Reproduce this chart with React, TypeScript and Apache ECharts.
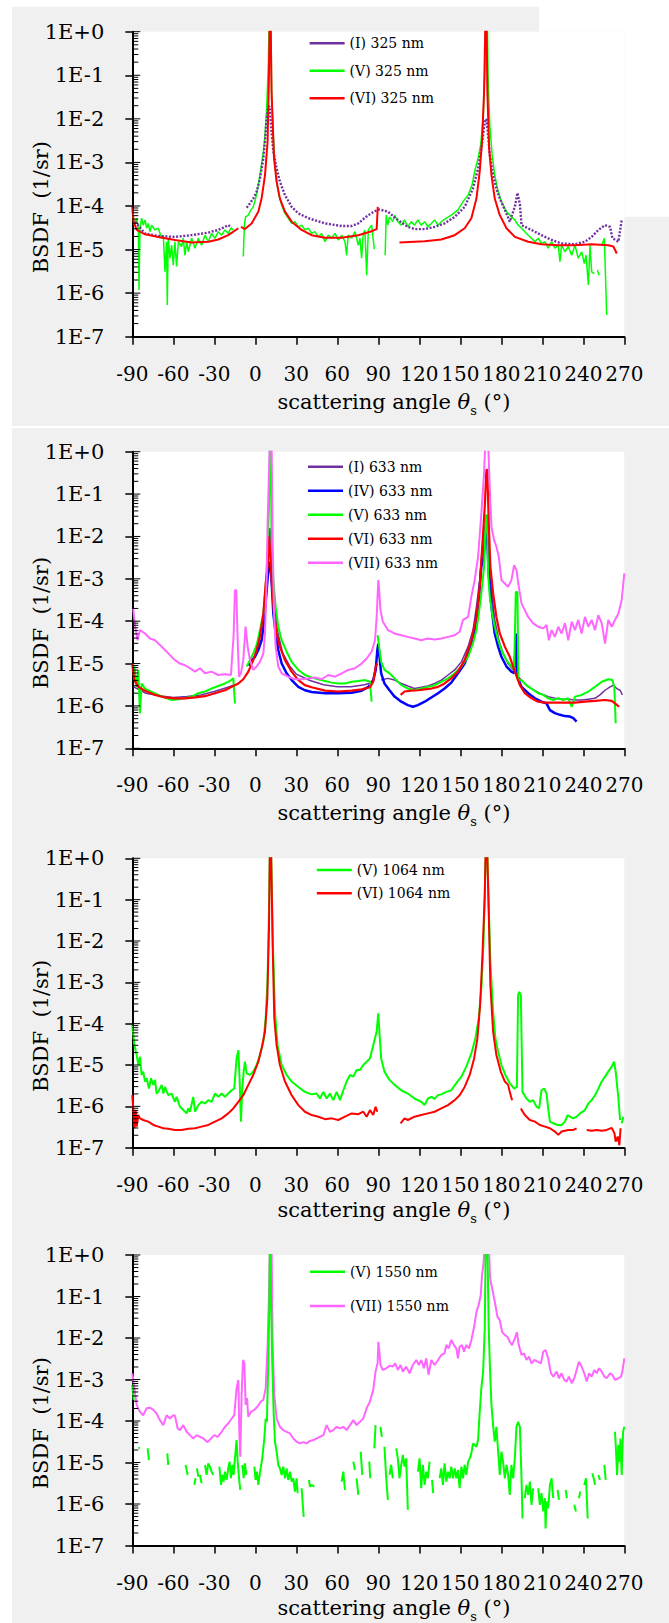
import { useEffect, useRef } from 'react';
import * as echarts from 'echarts';

// Each point: [scattering angle θs in degrees, log10(BSDF in 1/sr)]; null = gap in the measurement
type Pt = [number, number] | null;

const X_MIN = -90;
const X_MAX = 270;
const X_STEP = 30;
const Y_MIN = 1e-7;
const Y_MAX = 1;
const DECADES = [-7, -6, -5, -4, -3, -2, -1];
const MINOR_STEPS = [2, 3, 4, 5, 6, 7, 8, 9];

// ---------------- Panel 1 : 325 nm ----------------
const P1_I_325: Pt[] = [
  [-88, -4.36], [-80.7, -4.63], [-71, -4.69], [-58.8, -4.71], [-46.6, -4.67], [-34.4, -4.61], [-27.1, -4.55], [-22.2, -4.48], [-19.8, -4.44], [-17.3, -4.49], null,
  [-6.3, -4.04], [-3.9, -3.94], [-1.5, -3.83], [1, -3.67], [3.4, -3.37], [5.9, -2.91], [7.1, -2.52], [8.3, -1.99], [9.5, -1.72], [10.5, -1.72], [11.9, -2.3], [13.2, -2.75], [15.6, -3.14], [18, -3.44], [21.7, -3.75], [26.6, -4.02], [31.5, -4.17], [38.8, -4.28], [51, -4.4], [63.2, -4.46], [70.5, -4.46], [75.4, -4.4], [80.2, -4.27], [84.6, -4.17], [87.5, -4.12],
  [90.9, -4.08], [97, -4.13], [104.3, -4.32], [111.6, -4.48], [116.5, -4.53], [123.9, -4.53], [131.2, -4.48], [138.5, -4.4], [145.9, -4.25], [153.2, -4.02], [159.3, -3.6], [163, -3.14], [165.4, -2.68], [167.9, -2.07], [169.2, -2.0], [170.3, -2.37], [171.6, -2.83], [174, -3.29], [176.4, -3.6], [178.9, -3.83], [182.6, -4.09], [186.2, -4.36], [189.9, -4.02], [191.8, -3.7], [193.6, -3.96], [194.8, -4.44], [202.1, -4.55], [209.4, -4.67], [216.8, -4.78], [224.1, -4.86], [233.9, -4.88], [241.2, -4.82], [246.1, -4.71], [251, -4.55], [255.9, -4.44], [259.6, -4.48], [261.3, -4.74], [265.7, -4.82], [268.1, -4.32],
];
const P1_V_325: Pt[] = [
  [-90, -4.13], [-88.5, -4.44], [-86.8, -4.28], [-85.6, -4.51], [-85.1, -5.93], [-84.4, -4.51], [-83.2, -4.28], [-82, -4.44], [-80.7, -4.32], [-79.5, -4.51], [-78.3, -4.4], [-77.1, -4.59], [-75.9, -4.44], [-73.4, -4.55], [-71, -4.51], [-68.5, -4.74], [-67.3, -4.67], [-66.1, -5.51], [-64.9, -4.82], [-64.4, -6.27], [-63.7, -4.74], [-62.4, -5.2], [-61.2, -4.9], [-60, -5.36], [-58.8, -4.82], [-57.6, -5.39], [-56.3, -4.82], [-53.9, -4.93], [-52.7, -4.74], [-51.5, -5.13], [-50.2, -4.82], [-49, -5.05], [-46.6, -4.74], [-44.1, -4.97], [-41.7, -4.74], [-39.3, -4.9], [-36.8, -4.67], [-34.4, -4.82], [-32, -4.63], [-29.5, -4.74], [-27.1, -4.59], [-24.6, -4.67], [-22.2, -4.55], [-19.8, -4.63], [-17.8, -4.51], [-16.1, -4.55], null,
  [-8.8, -5.16], [-8, -4.44], [-7.1, -4.25], [-5.1, -4.21], [-3.2, -4.09], [-1.5, -4.02], [0.2, -3.83], [2.2, -3.52], [4.1, -3.14], [5.9, -2.75], [7.1, -2.37], [8.3, -1.76], [9.5, -0.77], [10.2, 0.3], [11.5, 0.3], [11.9, -1.38], [13.2, -2.37], [14.4, -3.06], [15.6, -3.44], [17.3, -3.75], [19.3, -3.98], [21.7, -4.17], [24.1, -4.28], [26.6, -4.4], [29, -4.36], [31.5, -4.48], [33.9, -4.44], [36.3, -4.55], [38.8, -4.51], [41.2, -4.63], [43.7, -4.59], [46.1, -4.71], [48.5, -4.63], [51, -4.82], [53.4, -4.67], [55.9, -4.74], [58.3, -4.63], [60.7, -4.78], [63.2, -4.67], [65.6, -4.82], [66.8, -5.13], [68, -4.67], [70.5, -4.74], [72.9, -4.59], [75.4, -4.9], [76.6, -4.74], [77.8, -5.2], [79, -4.63], [80.2, -4.55], [81.5, -5.59], [82.7, -4.55], [85.1, -4.44], [87.1, -4.99], null,
  [95, -5.13], [95.8, -4.21], [97, -4.44], [98.2, -4.25], [100.6, -4.36], [101.9, -4.21], [104.3, -4.36], [106.8, -4.44], [109.2, -4.32], [111.6, -4.48], [114.1, -4.36], [116.5, -4.44], [119, -4.32], [121.4, -4.44], [123.9, -4.36], [126.3, -4.48], [128.8, -4.4], [131.2, -4.32], [133.7, -4.44], [136.1, -4.36], [139.8, -4.28], [143.4, -4.21], [148.3, -4.09], [152, -3.9], [155.7, -3.75], [158.6, -3.52], [160.5, -3.21], [163, -2.91], [164.9, -2.6], [166.7, -1.99], [167.9, -0.99], [168.6, 0.3], [169.8, 0.3], [170.3, -0.99], [171.6, -2.14], [173.3, -2.83], [175.2, -3.29], [177.7, -3.67], [180.1, -3.9], [183.8, -4.13], [187.4, -4.25], [189.9, -4.32], [192.3, -4.44], [194.8, -4.51], [197.2, -4.59], [199.7, -4.67], [202.1, -4.74], [204.6, -4.82], [207, -4.74], [209.4, -4.86], [211.9, -4.82], [214.3, -4.97], [216.8, -4.82], [219.2, -4.97], [221.7, -4.9], [222.9, -5.28], [224.1, -4.9], [226.6, -5.05], [229, -4.93], [231.5, -5.13], [233.9, -4.9], [236.3, -5.2], [238.8, -5.05], [240.7, -5.32], [242, -5.13], [243.7, -5.81], [244.9, -4.9], [246.1, -5.51], [248.1, -5.55], null,
  [250.3, -5.47], [251.5, -5.59], null,
  [253.5, -4.9], [255.4, -4.74], [257.1, -6.5],
];
const P1_VI_325: Pt[] = [
  [-90, -4.02], [-89, -4.36], [-86.8, -4.55], [-80.7, -4.65], [-71, -4.71], [-58.8, -4.78], [-46.6, -4.84], [-34.4, -4.82], [-27.1, -4.77], [-19.8, -4.67], [-12.4, -4.51], null,
  [-10.5, -4.48], [-7.6, -4.53], [-2.7, -4.4], [2.2, -4.13], [4.6, -3.83], [7.1, -3.29], [9, -2.52], [10, -0.99], [10.5, 0.3], [11.2, 0.3], [11.9, -1.38], [13.7, -2.91], [15.6, -3.44], [18, -3.83], [21.7, -4.13], [26.6, -4.36], [33.9, -4.55], [41.2, -4.67], [51, -4.73], [63.2, -4.73], [75.4, -4.67], [85.1, -4.58], [88.8, -4.53], [89.6, -4.02], null,
  [105.5, -4.84], [123.9, -4.81], [136.1, -4.77], [145.9, -4.67], [153.2, -4.51], [158.1, -4.28], [161.8, -3.83], [164.2, -3.21], [165.9, -2.52], [167.4, -1.38], [168.4, 0.3], [169.2, 0.3], [169.8, -1.38], [171.1, -2.68], [172.8, -3.29], [175.2, -3.83], [178.9, -4.21], [183.8, -4.51], [189.9, -4.71], [199.7, -4.82], [209.4, -4.88], [221.7, -4.9], [233.9, -4.9], [246.1, -4.88], [258.3, -4.9], [262, -4.93], [264.5, -5.09],
];

// ---------------- Panel 2 : 633 nm ----------------
const P2_I_633: Pt[] = [
  [-89, -5.55], [-80, -5.7], [-70, -5.76], [-60, -5.8], [-50, -5.78], [-40, -5.74], [-30, -5.66], [-20, -5.56], [-15, -5.5], null,
  [5.9, -4.0], [8, -3.2], [9.5, -2.3], [10.7, -1.8], [12, -2.5], [13.5, -3.4], [16, -4.2], [20, -4.75], [25, -5.05], [30, -5.25], [40, -5.4], [50, -5.5], [60, -5.55], [70, -5.55], [80, -5.5], [85, -5.45], null,
  [92.1, -5.39], [97, -5.35], [101.9, -5.39], [106.8, -5.47], [111.6, -5.53], [116.5, -5.59], [121.4, -5.56], [126.3, -5.53], [131.2, -5.47], [136.1, -5.39], [141, -5.27], [145.9, -5.15], [150.8, -4.96], [155.7, -4.6], [159.3, -4.21], [161.8, -3.66], [164.2, -3.03], [165.9, -2.32], [167.4, -1.85], [168.6, -1.69], [170.3, -2.08], [171.6, -2.87], [173.3, -3.42], [175.2, -3.97], [178.2, -4.45], [181.3, -4.76], [185, -5.0], [188.7, -5.15], [192.3, -5.31], [196, -5.43], [199.7, -5.55], [204.6, -5.64], [209.4, -5.72], [214.3, -5.78], [219.2, -5.82], [224.1, -5.84], [229, -5.84], [233.9, -5.86], [238.8, -5.86], [243.7, -5.84], [248.6, -5.82], [252.2, -5.74], [255.9, -5.63], [259.6, -5.55], [262, -5.51], [264.5, -5.59], [266.9, -5.63], [268.6, -5.74],
];
const P2_IV_633: Pt[] = [
  [-5, -5.05], [-2.7, -4.92], [-0.2, -4.84], [2.2, -4.68], [4.6, -4.45], [6.6, -3.97], [8, -3.4], [9, -3.0], [10.2, -2.6], [11.2, -2.7], [12, -3.1], [13.2, -3.82], [14.9, -4.29], [16.8, -4.68], [19.3, -5.0], [22.9, -5.23], [26.6, -5.39], [31.5, -5.55], [36.3, -5.63], [41.2, -5.67], [51, -5.7], [60.7, -5.7], [70.5, -5.69], [77.8, -5.64], [82.7, -5.55], [86.3, -5.39], [88.1, -5.15], [89.3, -4.68], [90, -4.53], [90.9, -4.84], [92.1, -5.23], [94.5, -5.47], [98.2, -5.63], [101.9, -5.78], [106.8, -5.9], [111.6, -5.98], [115.3, -6.02], [119, -5.98], [123.9, -5.9], [128.8, -5.8], [133.7, -5.7], [138.5, -5.59], [143.4, -5.45], [148.3, -5.23], [153.2, -5.0], [156.9, -4.68], [160.5, -4.21], [163.5, -3.5], [165.4, -2.71], [167.1, -2.48], [168.4, -1.93], [169.6, -2.0], [170.8, -2.87], [172.8, -3.66], [175.2, -4.29], [177.7, -4.6], [180.1, -4.84], [183.8, -5.07], [187.4, -5.19], [189.4, -5.23], [190.9, -4.29], [191.8, -5.31], [194.8, -5.55], [199.7, -5.7], [204.6, -5.82], [209.4, -5.9], [213.1, -5.94], [215.6, -6.1], [219.2, -6.17], [222.9, -6.21], [226.6, -6.24], [230.2, -6.25], [232.7, -6.29], [235.1, -6.37],
];
const P2_V_633: Pt[] = [
  [-90, -5.0], [-88.5, -5.07], [-86.8, -5.55], [-85.6, -5.15], [-84.4, -6.18], [-83.2, -5.47], [-80.7, -5.59], [-75.9, -5.67], [-71, -5.74], [-66.1, -5.8], [-61.2, -5.86], [-56.3, -5.84], [-51.5, -5.82], [-46.6, -5.78], [-41.7, -5.7], [-36.8, -5.66], [-32, -5.59], [-27.1, -5.53], [-22.2, -5.47], [-18.5, -5.41], [-16.1, -5.35], [-14.9, -5.94], null,
  [-6.3, -5.07], [-3.9, -4.92], [-1.5, -4.76], [1, -4.56], [3.4, -4.21], [5.9, -3.82], [7.6, -3.19], [9, -2.32], [10, -1.3], [10.7, 0.3], [11.3, 0.3], [11.9, -2.08], [13.2, -3.03], [14.9, -3.66], [16.8, -4.13], [19.3, -4.45], [22.9, -4.72], [26.6, -4.96], [31.5, -5.15], [36.3, -5.27], [41.2, -5.33], [46.1, -5.37], [51, -5.41], [55.9, -5.45], [60.7, -5.47], [65.6, -5.47], [70.5, -5.43], [75.4, -5.41], [80.2, -5.39], [83.9, -5.43], [85.1, -5.9], null,
  [89.5, -4.33], [92.1, -4.96], [94.5, -5.15], [98.2, -5.23], [101.9, -5.35], [106.8, -5.51], [111.6, -5.59], [116.5, -5.63], [121.4, -5.59], [126.3, -5.55], [131.2, -5.51], [136.1, -5.43], [141, -5.35], [145.9, -5.23], [150.8, -5.07], [155.7, -4.84], [159.3, -4.52], [161.8, -4.21], [164.2, -3.66], [165.9, -3.19], [167.4, -2.71], [168.6, -1.5], [169.6, -1.5], [170.3, -2.87], [171.6, -3.42], [173.3, -3.82], [175.2, -4.13], [177.7, -4.45], [180.1, -4.68], [183.8, -4.92], [187.4, -5.07], [189.4, -5.15], [190.6, -3.31], [191.8, -3.31], [192.5, -5.39], [194.8, -5.39], [198.4, -5.51], [202.1, -5.59], [207, -5.7], [210.7, -5.74], [214.3, -5.82], [217.9, -5.86], [221.7, -5.82], [225.3, -5.86], [229, -5.82], [231.5, -6.02], [233.9, -5.78], [238.8, -5.74], [243.7, -5.66], [248.6, -5.55], [253.5, -5.43], [258.3, -5.37], [261.3, -5.39], [262.7, -5.55], [263.7, -6.41],
];
const P2_VI_633: Pt[] = [
  [-90, -5.01], [-88.5, -5.39], [-85.6, -5.55], [-80.7, -5.64], [-73.4, -5.74], [-66.1, -5.8], [-58.8, -5.82], [-51.5, -5.82], [-44.1, -5.8], [-36.8, -5.77], [-29.5, -5.7], [-22.2, -5.63], [-17.3, -5.55], [-12.4, -5.47], [-8.8, -5.37], [-5.1, -5.19], [-1.5, -4.92], [1, -4.68], [3.4, -4.37], [5.9, -3.82], [7.6, -3.11], [9, -2.71], [10, -2.0], [10.7, -2.32], [11.9, -3.03], [13.7, -3.82], [15.6, -4.29], [18, -4.6], [21.7, -4.92], [26.6, -5.19], [31.5, -5.39], [36.3, -5.51], [41.2, -5.56], [51, -5.64], [60.7, -5.66], [70.5, -5.64], [77.8, -5.61], [83.9, -5.56], [86.3, -5.43], [88.1, -5.07], [89.3, -5.0], null,
  [106.3, -5.74], [109.2, -5.66], [114.1, -5.64], [119, -5.63], [123.9, -5.61], [128.8, -5.59], [133.7, -5.55], [138.5, -5.47], [143.4, -5.35], [148.3, -5.19], [153.2, -4.92], [158.1, -4.45], [161.8, -3.9], [164.2, -3.19], [165.9, -2.32], [167.9, -1.3], [169.1, -0.43], [169.8, -0.43], [170.8, -1.69], [172, -2.71], [174, -3.34], [176.4, -3.9], [178.9, -4.29], [182.6, -4.6], [186.2, -4.84], [189.9, -5.19], [193.6, -5.51], [197.2, -5.7], [202.1, -5.82], [207, -5.9], [211.9, -5.92], [219.2, -5.92], [226.6, -5.92], [233.9, -5.92], [241.2, -5.9], [248.6, -5.88], [255.9, -5.86], [260.8, -5.88], [263.2, -5.94], [266.2, -6.02],
];
const P2_VII_633: Pt[] = [
  [-89.3, -3.7], [-88, -4.13], [-86.1, -4.45], [-84.4, -4.21], [-80.7, -4.29], [-77.1, -4.41], [-73.4, -4.45], [-69.8, -4.56], [-66.1, -4.68], [-62.4, -4.8], [-58.8, -4.92], [-55.1, -5.0], [-51.5, -5.04], [-47.8, -5.11], [-44.1, -5.19], [-40.5, -5.11], [-36.8, -5.23], [-32, -5.19], [-27.1, -5.27], [-22.2, -5.25], [-17.8, -5.27], [-16.8, -4.76], [-15.9, -4.37], [-14.9, -3.27], [-13.9, -3.27], [-12.9, -4.45], [-11.9, -5.31], [-10.5, -5.23], [-8.8, -4.92], [-7.1, -4.13], [-5.6, -4.6], [-3.9, -4.92], [-1.5, -5.15], [1, -5.07], [3.4, -4.96], [5.9, -4.76], [7.1, -4.29], [8.3, -3.03], [9, -1.69], [10, -0.51], [10.7, 0.3], [11.9, 0.3], [12.7, -2.08], [13.7, -3.82], [14.9, -4.6], [16.8, -5.07], [19.3, -5.23], [21.7, -5.27], [25.4, -5.33], [29, -5.37], [33.9, -5.37], [38.8, -5.35], [43.7, -5.33], [48.5, -5.37], [53.4, -5.27], [58.3, -5.31], [63.2, -5.23], [68, -5.15], [72.9, -5.11], [77.8, -5.0], [81.5, -4.88], [85.1, -4.72], [87.6, -4.45], [88.8, -3.9], [90, -3.03], null,
  [90.1, -3.03], [91.6, -3.74], [93.3, -4.01], [97, -4.21], [101.9, -4.29], [106.8, -4.33], [111.6, -4.37], [116.5, -4.41], [121.4, -4.45], [126.3, -4.41], [131.2, -4.43], [136.1, -4.41], [141, -4.37], [145.9, -4.33], [149.5, -4.25], [152, -3.97], [155.7, -3.9], [158.1, -3.42], [160.5, -3.03], [163, -2.48], [165.4, -1.46], [167.4, -0.51], [168.4, 0.3], [170.3, 0.3], [171.6, -0.9], [172.8, -1.77], [174.7, -2.08], [176.4, -2.24], [178.2, -2.48], [180.1, -3.03], [182.6, -3.11], [185, -3.19], [187.4, -3.03], [189.4, -2.68], [191.1, -2.79], [192.8, -3.19], [194.8, -3.58], [197.2, -3.74], [199.7, -3.9], [203.3, -4.05], [207, -4.13], [210.7, -4.17], [213.1, -4.09], [214.8, -4.45], [216.8, -4.21], [219.2, -4.37], [221.7, -4.13], [224.1, -4.29], [226.6, -4.05], [229, -4.45], [231.5, -4.01], [233.9, -4.21], [236.3, -3.97], [238.8, -4.29], [241.2, -3.9], [243.7, -4.13], [246.1, -3.97], [248.6, -4.21], [251, -3.86], [253.5, -4.05], [255.9, -4.53], [258.3, -3.97], [260.8, -4.13], [263.2, -3.97], [265.7, -3.82], [268.1, -3.5], [270, -2.87],
];

// ---------------- Panel 3 : 1064 nm ----------------
const P3_V_1064: Pt[] = [
  [-90, -4.03], [-88.5, -4.52], [-86.8, -4.76], [-85.6, -5.0], [-84.4, -4.8], [-83.2, -5.24], [-82, -5.16], [-80.7, -5.4], [-79.5, -5.32], [-77.8, -5.57], [-76.3, -5.32], [-74.6, -5.48], [-73.4, -5.36], [-72.2, -5.69], [-71, -5.65], [-68.5, -5.48], [-67.3, -5.69], [-66.1, -5.53], [-63.7, -5.73], [-61.2, -5.69], [-58.8, -5.89], [-57.6, -5.77], [-55.1, -6.01], [-52.7, -6.09], [-50.2, -6.17], [-49, -6.05], [-47.8, -6.13], [-45.4, -5.77], [-44.1, -6.13], [-41.7, -5.97], [-39.3, -5.89], [-36.8, -5.93], [-34.4, -5.85], [-32, -5.89], [-29.5, -5.69], [-27.1, -5.77], [-24.6, -5.69], [-22.2, -5.77], [-19.8, -5.69], [-17.3, -5.61], [-15.4, -5.57], [-13.7, -4.84], [-12.4, -4.64], [-11.5, -5.32], [-10.5, -6.37], [-9.5, -5.57], [-8.5, -5.16], [-7.6, -4.92], [-6.3, -5.2], [-3.9, -5.24], [-1.5, -5.16], [1, -5.0], [3.4, -4.76], [5.9, -4.44], [7.6, -3.87], [9, -2.9], [10, -1.29], [10.7, 0.3], [11.5, 0.3], [12.9, -2.1], [14.4, -3.71], [16.3, -4.52], [19.3, -5.0], [22.9, -5.24], [26.6, -5.4], [31.5, -5.53], [36.3, -5.65], [41.2, -5.71], [44.9, -5.69], [47.3, -5.81], [49.8, -5.65], [52.2, -5.81], [54.6, -5.69], [57.1, -5.85], [59.5, -5.65], [62, -5.85], [64.4, -5.61], [66.8, -5.4], [69.3, -5.24], [71.7, -5.28], [74.1, -5.12], [76.6, -5.12], [79, -5.0], [81.5, -4.92], [83.9, -4.84], [86.3, -4.52], [88.8, -4.19], [90, -3.75], [91, -4.3], [92.1, -4.84], [94.5, -5.16], [98.2, -5.36], [101.9, -5.48], [106.8, -5.61], [111.6, -5.69], [116.5, -5.81], [121.4, -5.89], [123.9, -5.97], [126.3, -5.81], [128.8, -5.77], [131.2, -5.82], [133.7, -5.73], [136.1, -5.71], [139.8, -5.65], [143.4, -5.61], [147.1, -5.44], [150.8, -5.28], [154.4, -5.04], [158.1, -4.72], [161, -4.36], [163.5, -3.87], [165.4, -3.15], [166.9, -2.1], [167.9, -0.89], [168.6, 0.3], [169.6, 0.3], [170.8, -1.13], [172, -2.5], [174, -3.71], [175.7, -4.36], [177.7, -4.68], [180.1, -5.0], [183, -5.24], [186.2, -5.44], [189.4, -5.57], [191.4, -5.53], [192.3, -3.31], [193.1, -3.23], [194.3, -3.31], [195.5, -5.65], [198.4, -5.81], [200.9, -5.89], [203.3, -5.85], [205.8, -6.01], [207.7, -6.05], [209.4, -5.61], [211.4, -5.57], [213.1, -5.69], [214.3, -6.05], [215.6, -6.37], [218, -6.41], [221.2, -6.45], [224.1, -6.45], [226.6, -6.37], [228.5, -6.21], [230.2, -6.25], [232.7, -6.29], [235.1, -6.25], [237.6, -6.17], [241.2, -6.09], [243.7, -5.93], [246.1, -5.85], [248.6, -5.73], [251, -5.57], [253.5, -5.4], [255.9, -5.28], [258.3, -5.16], [260.8, -5.04], [262.5, -4.92], [263.7, -5.16], [265.7, -5.81], [266.9, -6.33], null,
  [268.1, -6.41], [269.3, -6.25],
];
const P3_VI_1064: Pt[] = [
  [-90, -5.73], [-89.3, -6.05], [-88.5, -6.53], [-87.5, -6.09], [-86.8, -6.49], [-85.6, -6.21], [-84.4, -6.29], [-82, -6.33], [-78.3, -6.37], [-74.6, -6.45], [-71, -6.49], [-67.3, -6.53], [-63.7, -6.54], [-58.8, -6.57], [-53.9, -6.57], [-49, -6.54], [-44.1, -6.53], [-39.3, -6.49], [-34.4, -6.45], [-29.5, -6.37], [-24.6, -6.29], [-19.8, -6.17], [-16.1, -6.05], [-12.4, -5.89], [-8.8, -5.73], [-5.1, -5.48], [-1.5, -5.24], [2.2, -4.92], [4.6, -4.6], [7.1, -4.19], [8.8, -3.39], [10, -1.69], [10.7, 0.3], [11.5, 0.3], [12.7, -2.1], [13.9, -3.87], [15.6, -4.52], [18, -5.0], [21.7, -5.4], [26.6, -5.73], [31.5, -5.97], [36.3, -6.13], [41.2, -6.21], [46.1, -6.25], [51, -6.31], [55.9, -6.29], [60.7, -6.33], [65.6, -6.25], [70.5, -6.17], [75.4, -6.19], [79, -6.13], [81.5, -6.25], [83.9, -6.09], [86.3, -6.21], [88, -6.01], [89.3, -6.13], null,
  [106.3, -6.41], [109.2, -6.29], [111.6, -6.33], [116.5, -6.25], [121.4, -6.21], [126.3, -6.17], [131.2, -6.13], [136.1, -6.05], [141, -5.97], [145.9, -5.85], [149.5, -5.73], [153.2, -5.53], [156.9, -5.24], [160.1, -4.84], [162.5, -4.36], [164.5, -3.55], [166.2, -2.34], [167.9, -0.89], [168.6, 0.3], [169.6, 0.3], [170.8, -1.29], [172, -3.07], [174, -4.19], [176.4, -4.76], [179.6, -5.16], [182.6, -5.4], [185, -5.48], [186.2, -5.65], [187.9, -5.85], null,
  [194.3, -6.05], [197.2, -6.21], [200.9, -6.33], [204.6, -6.37], [208.2, -6.45], [211.9, -6.49], [215.6, -6.53], [219.2, -6.61], [221.7, -6.69], [224.1, -6.61], [229, -6.57], [232.7, -6.57], [235.1, -6.53], null,
  [242.5, -6.57], [246.1, -6.59], [249.8, -6.57], [253.5, -6.59], [257.1, -6.57], [260.8, -6.52], [262.8, -6.65], [263.7, -6.85], [265.2, -6.73], [266.4, -6.94], [267.3, -6.53],
];

// ---------------- Panel 4 : 1550 nm ----------------
const P4_V_1550: Pt[] = [
  [-90, -3.13], [-89, -3.49], null,
  [-85.6, -4.66], [-84.4, -4.64], null,
  [-78.8, -4.66], [-77.8, -4.94], null,
  [-64.4, -4.78], [-63.7, -5.06], null,
  [-51, -5.06], [-49.5, -5.3], null,
  [-44.6, -5.54], [-43.7, -5.38], null,
  [-42.7, -5.14], [-41.7, -5.34], null,
  [-40.5, -5.3], [-39.3, -5.5], null,
  [-36.8, -5.06], [-35.6, -5.3], [-34.4, -5.02], [-33.2, -5.1], [-32, -5.22], [-30.7, -5.3], null,
  [-26.3, -5.1], [-25.1, -5.54], [-24.1, -5.3], [-23.2, -5.46], [-22.2, -5.22], [-21, -5.42], [-19.8, -5.14], [-18.8, -4.98], [-17.8, -5.38], [-16.8, -5.06], [-15.9, -5.3], [-14.9, -4.9], [-13.7, -4.46], [-12.9, -4.98], [-11.9, -5.38], [-11, -5.66], null,
  [-9.5, -5.06], [-8.5, -5.38], [-7.6, -5.02], [-6.6, -5.3], null,
  [-0.7, -5.1], [0.2, -5.42], [1.2, -5.22], [2.2, -5.54], [3.2, -5.3], [4.1, -5.1], [5.1, -4.9], [6.6, -4.42], [7.6, -3.94], [8.5, -4.02], [9.5, -2.57], [10.2, -1.37], [10.7, 0.3], [11.2, 0.3], [11.5, -0.96], [12.4, -2.57], [13.4, -3.78], [14.4, -4.5], [15.6, -4.74], [16.8, -5.06], [18, -5.14], [19.3, -5.3], [20.5, -5.1], [21.7, -5.38], [22.9, -5.14], [24.1, -5.42], [25.4, -5.22], [26.6, -5.46], [27.8, -5.38], [29, -5.7], [30.2, -5.38], [31, -5.74], null,
  [33.9, -5.62], [34.6, -5.94], [35.4, -6.31], null,
  [39.3, -5.42], [40, -5.58], [41.2, -5.54], [43.2, -5.58], null,
  [63.2, -5.46], [64.4, -5.22], [65.6, -5.66], null,
  [71.7, -4.98], [72.9, -5.18], null,
  [74.1, -5.38], [75.4, -5.78], null,
  [77.1, -4.74], [78.3, -5.3], null,
  [83.4, -4.98], [84.1, -5.38], null,
  [87.1, -4.66], [88, -4.1], null,
  [91.6, -4.14], [92.6, -4.38], null,
  [94.5, -4.62], [95.8, -5.38], [97, -5.9], null,
  [98.2, -5.3], [99.4, -5.06], [100.6, -5.38], null,
  [103.1, -4.66], [104.3, -4.9], [105.5, -5.38], [106.8, -5.06], [108, -4.82], [109.2, -5.1], [110.4, -4.9], [111.6, -6.14], null,
  [119, -5.22], [120.2, -4.9], [121.4, -5.62], [122.6, -5.06], [123.9, -5.54], [125.1, -5.22], [126.3, -5.38], [127.5, -4.98], null,
  [129.3, -5.42], [130.2, -5.74], null,
  [134.9, -5.38], [136.1, -5.14], [137.3, -5.54], [138.5, -5.02], [139.8, -5.46], [141, -5.22], [142.2, -5.38], [143.4, -5.1], [144.7, -5.38], [145.9, -5.14], [147.1, -5.38], [148.3, -5.18], [149.5, -5.62], [150.8, -5.1], [152, -5.38], [153.2, -5.06], [154.4, -5.3], [155.7, -4.98], [156.9, -4.9], [158.1, -4.78], [159.3, -4.54], [160.5, -4.58], [161.8, -4.62], [163, -4.46], [164.2, -3.78], [165.4, -3.21], [166.7, -2.81], [167.9, -1.77], [168.6, 0.3], [169.8, 0.3], [170.8, -1.77], [171.8, -2.81], [172.8, -3.61], [174, -4.1], [175.2, -4.5], [176.4, -4.14], [177.7, -4.74], [178.9, -5.3], [180.1, -4.74], [181.3, -4.98], [182.6, -5.38], [183.8, -5.06], [185, -5.3], [186.2, -5.78], [187.4, -5.06], [188.7, -5.38], [189.9, -4.9], [191.1, -4.14], [192.3, -4.02], [193.6, -4.14], [194.8, -5.38], [195.5, -6.35], null,
  [197.2, -5.86], [198.4, -5.54], [199.7, -5.78], [200.9, -5.46], [202.1, -6.02], [203.3, -5.62], null,
  [207, -5.62], [208.2, -6.02], [209.4, -5.74], [210.7, -6.18], [211.9, -5.86], [212.4, -6.59], [213.1, -5.94], [214.3, -6.1], [215.6, -5.54], [216.8, -5.38], [218, -5.86], null,
  [221.2, -5.66], [222.2, -5.9], null,
  [227.1, -5.66], [228, -5.86], null,
  [233.4, -6.02], [234.6, -6.18], null,
  [236.8, -5.86], [237.8, -5.7], null,
  [240.7, -5.54], [242, -5.38], [243.2, -6.35], null,
  [246.6, -5.26], [247.6, -5.38], [248.6, -5.54], null,
  [251, -5.3], [252.2, -5.42], null,
  [255.4, -5.06], [256.4, -5.42], null,
  [263.2, -4.26], [264, -4.74], [264.7, -5.3], [265.7, -4.58], [266.4, -4.98], [267.2, -4.42], [268.1, -5.3], [269.1, -4.26], [270, -4.14],
];
const P4_VII_1550: Pt[] = [
  [-90, -2.85], [-88.5, -3.21], [-86.8, -3.61], [-84.4, -3.78], [-82, -3.86], [-79.5, -3.69], [-77.1, -3.68], [-74.6, -3.73], [-72.2, -3.82], [-69.8, -3.98], [-67.3, -4.1], [-64.9, -3.86], [-62.4, -3.94], [-60, -3.86], [-58.8, -3.87], [-56.8, -4.18], [-55.1, -4.22], [-52.7, -4.1], [-50.2, -4.26], [-47.8, -4.34], [-45.4, -4.42], [-42.9, -4.34], [-40.5, -4.38], [-38, -4.42], [-34.9, -4.51], [-32.4, -4.42], [-30, -4.34], [-27.6, -4.38], [-24.6, -4.26], [-22.2, -4.14], [-19.8, -4.06], [-17.3, -3.94], [-15.4, -3.86], [-13.7, -3.21], [-12.4, -3.01], [-11.7, -4.26], [-11, -4.86], [-10, -3.37], [-9, -2.53], [-8, -2.61], [-7.1, -3.61], [-6.1, -3.45], [-5.1, -3.9], [-3.2, -3.78], [-0.7, -3.73], [1.7, -3.65], [4.1, -3.53], [5.9, -3.49], [7.6, -3.21], [9, -2.17], [10, -0.96], [10.7, 0.3], [11.9, 0.3], [12.7, -2.17], [13.9, -3.37], [15.6, -3.94], [18, -4.14], [20.4, -4.22], [22.9, -4.26], [25.4, -4.3], [27.8, -4.42], [30.2, -4.5], [32.7, -4.54], [35.1, -4.51], [37.6, -4.54], [40, -4.48], [42.5, -4.46], [44.9, -4.42], [47.3, -4.38], [49.8, -4.34], [52.2, -4.1], [54.6, -4.26], [57.1, -4.22], [59.5, -4.14], [62, -4.18], [64.4, -4.14], [66.8, -4.22], [69.3, -4.1], [71.7, -3.98], [74.1, -4.1], [76.6, -4.02], [79, -3.94], [81.5, -3.69], [83.9, -3.53], [86.3, -3.25], [88, -2.81], [89.5, -2.6], [90.1, -2.09], [91.6, -2.65], [93.3, -2.77], [95.8, -2.73], [98.2, -2.67], [100.6, -2.69], [102.4, -2.61], [104.3, -2.77], [106.3, -2.65], [108, -2.81], [110.4, -2.69], [112.9, -2.85], [115.3, -2.65], [117.8, -2.53], [119.7, -2.65], [121.4, -2.53], [123.4, -2.73], [125.1, -2.49], [126.8, -2.89], [128.8, -2.53], [131.2, -2.65], [133.7, -2.53], [136.1, -2.41], [138.5, -2.37], [139.8, -2.17], [141.5, -2.25], [143.4, -2.05], [145.4, -2.17], [147.1, -2.25], [148.3, -2.49], [149.5, -2.21], [151.3, -2.17], [152.7, -2.33], [154.4, -2.17], [156.4, -2.25], [158.1, -2.05], [160.1, -1.73], [161.8, -1.37], [163.5, -1.2], [165, -0.96], [165.9, -0.48], [166.9, -0.24], [167.9, 0.3], [170.8, 0.3], [171.8, -0.56], [173.3, -0.8], [175.2, -1.12], [177.2, -1.49], [178.9, -1.57], [180.6, -1.85], [182.6, -1.93], [184.5, -1.97], [186.2, -2.09], [187.9, -2.17], [189.9, -2.01], [191.4, -1.86], [192.8, -2.17], [194.8, -2.41], [196.7, -2.37], [198.4, -2.53], [200.2, -2.45], [202.1, -2.61], [204.1, -2.53], [206.5, -2.57], [209, -2.61], [210.7, -2.33], [212.4, -2.29], [214.3, -2.49], [216.3, -2.85], [218, -2.93], [220.5, -2.81], [222.2, -2.97], [224.1, -2.85], [226.1, -3.01], [227.8, -3.05], [229.5, -2.93], [231.5, -3.09], [233.4, -2.97], [235.1, -2.77], [236.8, -2.57], [238.8, -2.69], [240.7, -2.85], [242.5, -3.05], [244.2, -2.85], [246.1, -2.93], [248.1, -2.77], [249.8, -2.85], [251.5, -2.73], [253.5, -2.81], [255.4, -2.93], [257.1, -2.97], [259.6, -2.85], [261.3, -2.89], [263.2, -3.01], [265.7, -2.97], [267.6, -2.93], [268.6, -2.81], [270, -2.49],
];

const COLOR_I = '#7030a0';
const COLOR_IV = '#0000ff';
const COLOR_V = '#00ff00';
const COLOR_VI = '#ff0000';
const COLOR_VII = '#ff66ff';

const FONT = 'DejaVu Serif';
const GRAY = '#f0f0f0';
const PLOT_LEFT = 132.3;
const PLOT_WIDTH = 492;

interface SeriesDef { name: string; color: string; width: number; data: Pt[]; dotted?: boolean }
interface PanelDef {
  top: number; height: number;
  legendTop: number; legendLeft: number; legendGap: number;
  xTitleY: number;
  series: SeriesDef[]; legendOrder: string[];
}

const PANELS: PanelDef[] = [
  {
    top: 31.7, height: 305, legendTop: 36.3, legendLeft: 309.6, legendGap: 13.5, xTitleY: 401.7,
    series: [
      { name: '(V) 325 nm', color: COLOR_V, width: 1.5, data: P1_V_325 },
      { name: '(I) 325 nm', color: COLOR_I, width: 2.4, data: P1_I_325, dotted: true },
      { name: '(VI) 325 nm', color: COLOR_VI, width: 2, data: P1_VI_325 },
    ],
    legendOrder: ['(I) 325 nm', '(V) 325 nm', '(VI) 325 nm'],
  },
  {
    top: 451.7, height: 296.6, legendTop: 459.7, legendLeft: 308, legendGap: 10, xTitleY: 813,
    series: [
      { name: '(I) 633 nm', color: COLOR_I, width: 1.5, data: P2_I_633 },
      { name: '(IV) 633 nm', color: COLOR_IV, width: 2.5, data: P2_IV_633 },
      { name: '(V) 633 nm', color: COLOR_V, width: 2, data: P2_V_633 },
      { name: '(VI) 633 nm', color: COLOR_VI, width: 2.2, data: P2_VI_633 },
      { name: '(VII) 633 nm', color: COLOR_VII, width: 2, data: P2_VII_633 },
    ],
    legendOrder: ['(I) 633 nm', '(IV) 633 nm', '(V) 633 nm', '(VI) 633 nm', '(VII) 633 nm'],
  },
  {
    top: 858.3, height: 289.4, legendTop: 863, legendLeft: 316.8, legendGap: 9.3, xTitleY: 1210,
    series: [
      { name: '(V) 1064 nm', color: COLOR_V, width: 2, data: P3_V_1064 },
      { name: '(VI) 1064 nm', color: COLOR_VI, width: 2, data: P3_VI_1064 },
    ],
    legendOrder: ['(V) 1064 nm', '(VI) 1064 nm'],
  },
  {
    top: 1255, height: 290.5, legendTop: 1264.7, legendLeft: 310, legendGap: 20.3, xTitleY: 1608,
    series: [
      { name: '(VII) 1550 nm', color: COLOR_VII, width: 2, data: P4_VII_1550 },
      { name: '(V) 1550 nm', color: COLOR_V, width: 2, data: P4_V_1550 },
    ],
    legendOrder: ['(V) 1550 nm', '(VII) 1550 nm'],
  },
];

// Log-axis minor tick positions (axis decoration)
const TICK_MARKS: number[][] = [];
DECADES.forEach((k) => {
  TICK_MARKS.push([X_MIN, Math.pow(10, k), 1]);
  MINOR_STEPS.forEach((m) => TICK_MARKS.push([X_MIN, m * Math.pow(10, k), 0]));
});
TICK_MARKS.push([X_MIN, 1, 1]);

const toData = (pts: Pt[]) => pts.map((p) => (p ? [p[0], Math.pow(10, p[1])] : [null, null]));

const yLabel = (v: number) => {
  const e = Math.round(Math.log10(v));
  return e >= 0 ? '1E+' + e : '1E' + e;
};

function buildOption() {
  const grid = PANELS.map((p) => ({
    left: PLOT_LEFT, top: p.top, width: PLOT_WIDTH, height: p.height,
    show: true, backgroundColor: '#ffffff', borderWidth: 0, containLabel: false,
  }));
  const xAxis = PANELS.map((_, i) => ({
    type: 'value', gridIndex: i, min: X_MIN, max: X_MAX, interval: X_STEP,
    axisLine: { show: true, onZero: false, lineStyle: { color: '#000', width: 2 } },
    axisTick: { show: true, length: 8, lineStyle: { color: '#000', width: 1.5 } },
    axisLabel: { margin: 27, fontSize: 20, fontFamily: FONT, color: '#000' },
    splitLine: { show: false },
  }));
  const yAxis = PANELS.map((_, i) => ({
    type: 'log', logBase: 10, gridIndex: i, min: Y_MIN, max: Y_MAX, splitNumber: 7,
    axisLine: { show: true, onZero: false, lineStyle: { color: '#000', width: 2 } },
    axisTick: { show: true, length: 7, lineStyle: { color: '#000', width: 1.5 } },
    axisLabel: { margin: 28, fontSize: 21, fontFamily: FONT, color: '#000', formatter: yLabel },
    splitLine: { show: false },
    minorTick: { show: false },
  }));
  const series: any[] = [];
  PANELS.forEach((p, i) => {
    p.series.forEach((s) => {
      series.push({
        type: 'line', name: s.name, xAxisIndex: i, yAxisIndex: i,
        data: toData(s.data), showSymbol: false, symbol: 'none', connectNulls: false, clip: true,
        lineStyle: { color: s.color, width: s.width, type: s.dotted ? [2, 1.6] : 'solid' },
        itemStyle: { color: s.color }, z: 2,
      });
    });
    series.push({
      type: 'custom', name: 'ticks' + i, xAxisIndex: i, yAxisIndex: i, silent: true, clip: false, z: 5,
      encode: { x: 0, y: 1 },
      data: TICK_MARKS,
      renderItem: (_params: any, api: any) => {
        const pt = api.coord([api.value(0), api.value(1)]);
        const len = api.value(2) ? 8 : 6;
        return {
          type: 'line',
          shape: { x1: pt[0], y1: pt[1], x2: pt[0] + len, y2: pt[1] },
          style: { stroke: '#000', lineWidth: 1 },
        };
      },
    });
  });
  const legend = PANELS.map((p) => ({
    orient: 'vertical', left: p.legendLeft, top: p.legendTop, itemGap: p.legendGap,
    itemWidth: 35, itemHeight: 2.5, icon: 'rect', padding: 0, selectedMode: false,
    data: p.legendOrder.map((n) => ({ name: n })),
    textStyle: { fontFamily: FONT, fontSize: 14, color: '#000', lineHeight: 14 },
  }));
  const graphic: any[] = [
    { type: 'rect', z: -100, silent: true, shape: { x: 12, y: 6.7, width: 657, height: 419.3 }, style: { fill: GRAY } },
    { type: 'rect', z: -99, silent: true, shape: { x: 539, y: 0, width: 130, height: 31.7 }, style: { fill: '#ffffff' } },
    { type: 'rect', z: -99, silent: true, shape: { x: 624.3, y: 0, width: 44.7, height: 216.7 }, style: { fill: '#ffffff' } },
    { type: 'rect', z: -100, silent: true, shape: { x: 12, y: 428, width: 657, height: 1195 }, style: { fill: GRAY } },
  ];
  PANELS.forEach((p) => {
    graphic.push({
      type: 'text', z: 100, silent: true, x: 40.6, y: p.top + p.height / 2 + 23, rotation: Math.PI / 2,
      style: { text: 'BSDF  (1/sr)', fontSize: 21, fontFamily: FONT, fill: '#000', align: 'center', verticalAlign: 'middle' },
    });
    graphic.push({
      type: 'text', z: 100, silent: true, x: 394, y: p.xTitleY,
      style: {
        text: 'scattering angle {i|θ}{s|s} (°)', fontSize: 21, fontFamily: FONT, fill: '#000',
        align: 'center', verticalAlign: 'middle', lineHeight: 30,
        rich: {
          i: { fontStyle: 'italic', fontSize: 21, fontFamily: FONT, fill: '#000', lineHeight: 30 },
          s: { fontSize: 13, fontFamily: FONT, fill: '#000', lineHeight: 13, verticalAlign: 'bottom' },
        },
      },
    });
  });
  return {
    animation: false,
    backgroundColor: '#ffffff',
    grid, xAxis, yAxis, series, legend, graphic,
  };
}

export default function App() {
  const ref = useRef<HTMLDivElement>(null);
  useEffect(() => {
    if (!ref.current) return;
    const chart = echarts.init(ref.current, undefined, { renderer: 'svg' });
    chart.setOption(buildOption() as any);
    return () => chart.dispose();
  }, []);
  return <div ref={ref} style={{ position: 'absolute', left: 0, top: 0, width: 669, height: 1623 }} />;
}
